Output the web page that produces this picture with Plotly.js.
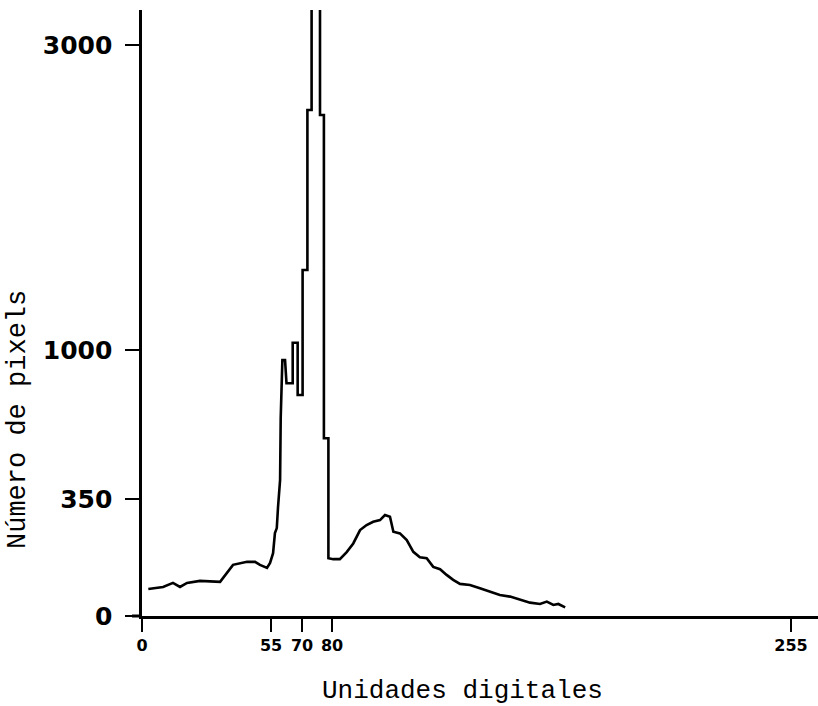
<!DOCTYPE html>
<html>
<head>
<meta charset="utf-8">
<script src="https://cdn.plot.ly/plotly-3.0.1.min.js"></script>
<style>html,body{margin:0;padding:0;background:#fff;}#chart{width:818px;height:706px;}</style>
</head>
<body>
<div id="chart"></div>
<script>
// ---- data (digital number, pixel count) ----
const dn = [2.7, 9.0, 13.2, 16.2, 19.2, 24.7, 33.3, 36.2, 38.8, 44.8, 48.2, 50.3, 53.3, 54.6,
  56.0, 56.9, 57.8, 58.4, 59.4, 59.7, 60.5, 61.8, 62.5, 65.5, 65.5, 67.9, 67.9, 70.2, 70.2,
  71.8, 71.8, 73.2, 73.2, 76.0, 76.0, 77.3, 77.3, 78.8, 78.8, 80.5, 83.0, 85.6, 88.1, 90.7,
  93.2, 95.7, 98.3, 100.2, 102.1, 103.4, 105.9, 108.5, 111.0, 113.5, 116.1, 118.6, 121.2,
  123.7, 126.2, 128.8, 132.6, 136.4, 140.2, 144.0, 147.9, 151.7, 155.5, 159.3, 161.9, 164.4,
  166.3, 168.9];
const count = [81, 87, 99, 87, 99, 105, 102, 129, 153, 162, 162, 153, 144, 159,
  188, 248, 263, 326, 433, 703, 956, 956, 855, 855, 1048, 1048, 804, 804, 1525,
  1525, 2574, 2574, 3400, 3400, 2541, 2541, 615, 615, 173, 170, 170, 191, 217, 257,
  272, 282, 287, 302, 297, 252, 247, 227, 192, 176, 173, 147, 140,
  123, 108, 96, 93, 83, 73, 63, 58, 48, 40, 36, 43, 33,
  36, 26];

const xTickLabels = ['0', '55', '70', '80', '255'];
const yTickLabels = ['0', '350', '1000', '3000'];

// ---- the figure's hand-drawn (non-linear) scales ----
const xScaleDN = [0, 55, 70, 80, 255];
const xScalePos = [0, 129, 160, 190, 649];
const yScaleCount = [0, 350, 1000, 3000];
const yScalePos = [0, 117, 266, 571];

function interp(v, a, b) {
  let i = 0;
  while (i < a.length - 2 && v > a[i + 1]) i++;
  return b[i] + (v - a[i]) * (b[i + 1] - b[i]) / (a[i + 1] - a[i]);
}

const xs = dn.map(v => interp(v, xScaleDN, xScalePos));
const ys = count.map(v => interp(v, yScaleCount, yScalePos));

const trace = {
  x: xs, y: ys, type: 'scatter', mode: 'lines',
  line: {color: '#000', width: 2.6},
  hoverinfo: 'skip'
};

const L = 142, T = 10, W = 676, H = 606;

const layout = {
  width: 818, height: 706,
  margin: {l: L, r: 0, t: T, b: 706 - T - H},
  paper_bgcolor: '#fff', plot_bgcolor: '#fff',
  showlegend: false,
  xaxis: {
    range: [0, W], showgrid: false, zeroline: false,
    showline: true, linecolor: '#000', linewidth: 3,
    ticks: 'outside', ticklen: 13, tickwidth: 2.5, tickcolor: '#000',
    tickmode: 'array',
    tickvals: xTickLabels.map(t => interp(+t, xScaleDN, xScalePos)),
    ticktext: xTickLabels,
    tickfont: {family: 'DejaVu Sans', size: 16, color: '#000', weight: 'bold'},
    fixedrange: true
  },
  yaxis: {
    range: [0, H], showgrid: false, zeroline: false,
    showline: true, linecolor: '#000', linewidth: 2.6,
    ticks: 'outside', ticklen: 14, tickwidth: 2.5, tickcolor: '#000',
    tickmode: 'array',
    tickvals: yTickLabels.map(t => interp(+t, yScaleCount, yScalePos)),
    ticktext: yTickLabels,
    ticklabelstandoff: 8,
    tickfont: {family: 'DejaVu Sans', size: 25, color: '#000', weight: 'bold'},
    fixedrange: true
  },
  shapes: [{
    type: 'line', xref: 'paper', yref: 'paper',
    x0: -10 / W, x1: 0, y0: 0, y1: 0,
    line: {color: '#000', width: 3}
  }],
  annotations: [
    {
      text: 'Unidades digitales', xref: 'paper', yref: 'paper',
      x: (462 - L) / W, y: -(691 - (T + H)) / H, xanchor: 'center', yanchor: 'middle',
      showarrow: false, font: {family: 'Liberation Mono', size: 26, color: '#000'}
    },
    {
      text: 'Número de pixels', xref: 'paper', yref: 'paper',
      x: (18 - L) / W, y: ((T + H) - 420) / H, xanchor: 'center', yanchor: 'middle',
      textangle: -90,
      showarrow: false, font: {family: 'Liberation Mono', size: 27, color: '#000'}
    }
  ]
};

Plotly.newPlot('chart', [trace], layout, {displayModeBar: false, staticPlot: true});
</script>
</body>
</html>
